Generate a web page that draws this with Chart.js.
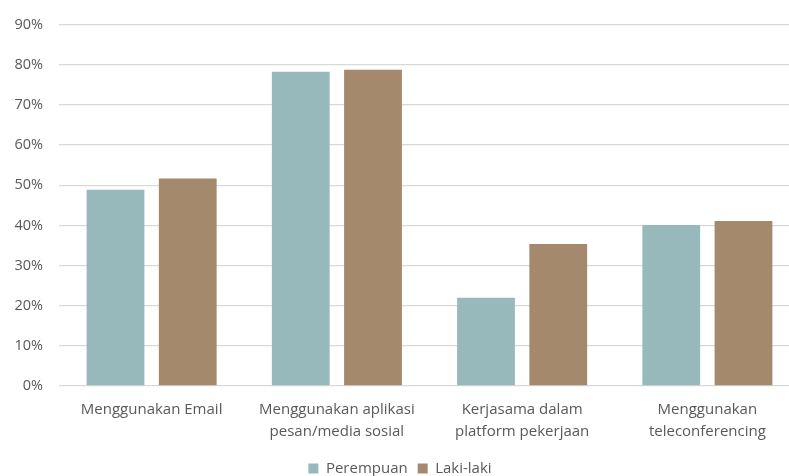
<!DOCTYPE html>
<html><head><meta charset="utf-8">
<script src="https://cdn.jsdelivr.net/npm/chart.js@4/dist/chart.umd.min.js"></script>
<style>
html,body{margin:0;padding:0;background:#fff;overflow:hidden;}
#wrap{width:789px;height:476px;overflow:hidden;position:relative;}
#box{width:820px;height:486px;position:absolute;left:0;top:0;}
</style></head>
<body>
<div id="wrap"><div id="box"><canvas id="c"></canvas></div></div>
<script>
const categories = ['Menggunakan Email', ['Menggunakan aplikasi','pesan/media sosial'], ['Kerjasama dalam','platform pekerjaan'], ['Menggunakan','teleconferencing']];
const perempuan = [48.9, 78.3, 22.0, 40.1];
const lakiLaki = [51.7, 78.8, 35.4, 41.1];
const seriesNames = ['Perempuan', 'Laki-laki'];
const yTicks = [0,10,20,30,40,50,60,70,80,90];

const FONT = 'Open Sans, Noto Sans, sans-serif';
new Chart(document.getElementById('c'), {
  type: 'bar',
  data: {
    labels: categories,
    datasets: [
      {label: seriesNames[0], data: perempuan, backgroundColor: '#98b9bc', barPercentage: 0.8, categoryPercentage: 0.78},
      {label: seriesNames[1], data: lakiLaki, backgroundColor: '#a4896c', barPercentage: 0.8, categoryPercentage: 0.78}
    ]
  },
  options: {
    responsive: true, maintainAspectRatio: false, animation: false,
    devicePixelRatio: 1,
    layout: {padding: {top: 16, right: 20, left: 0, bottom: 0}},
    plugins: {
      tooltip: {enabled: false},
      legend: {
        position: 'bottom',
        labels: {boxWidth: 10, boxHeight: 10, color: '#595959', font: {family: FONT, size: 15}, padding: 10}
      }
    },
    scales: {
      x: {
        grid: {display: false},
        border: {display: false},
        ticks: {color: '#595959', font: {family: FONT, size: 15, lineHeight: 1.45}, maxRotation: 0, autoSkip: false, padding: 5},
        afterFit: s => { s.height = 65; }
      },
      y: {
        min: 0, max: 90,
        afterBuildTicks: s => { s.ticks = yTicks.map(v => ({value: v})); },
        grid: {color: '#d9d9d9', lineWidth: 1.3, drawTicks: false},
        border: {display: false},
        ticks: {color: '#595959', font: {family: FONT, size: 14.5}, padding: 16, callback: v => v + '%'},
        afterFit: s => { s.width = 59; }
      }
    }
  }
});
</script>
</body></html>
